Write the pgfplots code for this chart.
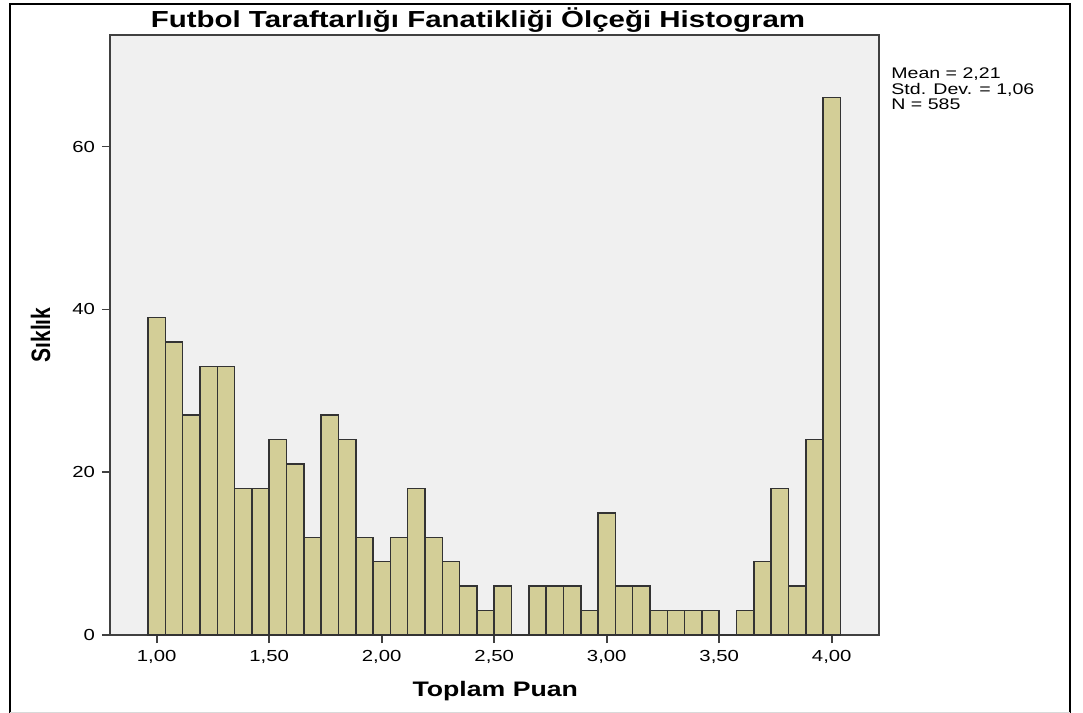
\documentclass[border=0pt]{standalone}
\usepackage{fontspec}
\setmainfont{Liberation Sans}[FakeStretch=1.27]
\newfontfamily\unstretched{Liberation Sans}
\usepackage{pgfplots}
\pgfplotsset{compat=1.18}
\definecolor{barfill}{RGB}{211,206,151}
\definecolor{plotbg}{RGB}{240,240,240}

\begin{document}
\begin{tikzpicture}
\path[use as bounding box] (0pt,0pt) rectangle (541.5pt,-356.5pt);
\begin{scope}[x=0.5pt,y=-0.5pt]
\draw[line width=1pt] (10,713) -- (10,3.5) -- (1070,3.5) -- (1070,713);
\draw[black!15, line width=0.5pt] (10,712) -- (1070,712);
\end{scope}
\begin{axis}[
  at={(55pt,-317.5pt)}, anchor=south west,
  scale only axis, width=384.5pt, height=300pt,
  xmin=0.7924, xmax=4.210, ymin=0, ymax=73.7,
  axis background/.style={fill=plotbg},
  axis line style={black!75, line width=0.8pt},
  xtick={1,1.5,2,2.5,3,3.5,4},
  xticklabels={{1,00},{1,50},{2,00},{2,50},{3,00},{3,50},{4,00}},
  ytick={0,20,40,60}, yticklabels={0,20,40,60},
  tick align=outside, xtick pos=bottom, ytick pos=left,
  major tick length=4pt,
  tick style={black!75, line width=0.8pt},
  tick label style={font=\fontsize{8}{9.6}\selectfont},
  every axis title shift=0pt,
  title={Futbol Taraftarlığı Fanatikliği Ölçeği Histogram},
  title style={font=\bfseries\fontsize{11.6}{13}\selectfont, at={(axis description cs:0.4785,1.025)}, anchor=center},
  xlabel={Toplam Puan},
  xlabel style={font=\bfseries\fontsize{10.5}{12}\selectfont, at={(axis description cs:0.501,-0.1033)}, anchor=base},
  ylabel={\scalebox{1}[1.27]{\unstretched\bfseries Sıklık}},
  ylabel style={font=\fontsize{10.5}{12}\selectfont, at={(axis description cs:-0.078,0.5)}, anchor=base},
]
\addplot[ybar, bar width=0.0769231, bar shift=0pt, fill=barfill, draw=black!80, line width=0.75pt] coordinates {
(1.00000,39) (1.07692,36) (1.15385,27) (1.23077,33) (1.30769,33)
(1.38462,18) (1.46154,18) (1.53846,24) (1.61538,21) (1.69231,12)
(1.76923,27) (1.84615,24) (1.92308,12) (2.00000,9) (2.07692,12)
(2.15385,18) (2.23077,12) (2.30769,9) (2.38462,6) (2.46154,3)
(2.53846,6) (2.61538,0) (2.69231,6) (2.76923,6) (2.84615,6)
(2.92308,3) (3.00000,15) (3.07692,6) (3.15385,6) (3.23077,3)
(3.30769,3) (3.38462,3) (3.46154,3) (3.53846,0) (3.61538,3)
(3.69231,9) (3.76923,18) (3.84615,6) (3.92308,24) (4.00000,66)
};
\end{axis}
\begin{scope}[x=0.5pt,y=-0.5pt]
\node[anchor=base west, font=\fontsize{7.7}{9}\selectfont, inner sep=0] at (891,78.5) {Mean = 2,21};
\node[anchor=base west, font=\fontsize{7.7}{9}\selectfont, inner sep=0] at (891,94) {Std. Dev. = 1,06};
\node[anchor=base west, font=\fontsize{7.7}{9}\selectfont, inner sep=0] at (891,109.5) {N = 585};
\end{scope}
\end{tikzpicture}
\end{document}
